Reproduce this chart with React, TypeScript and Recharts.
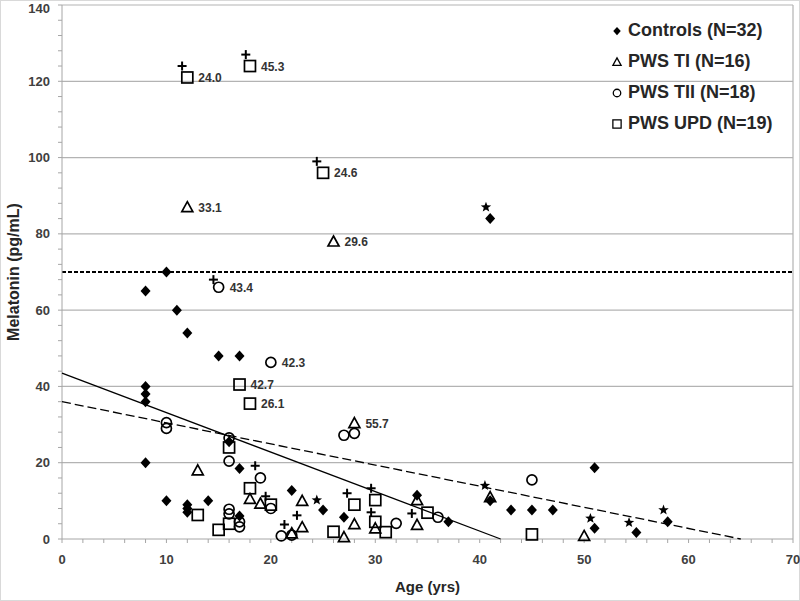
import {
  ScatterChart,
  Scatter,
  XAxis,
  YAxis,
  CartesianGrid,
  ReferenceLine,
} from "recharts";

type Pt = [number, number, string?];

// Age (yrs), melatonin (pg/mL), optional annotation
const controls: Pt[] = [
  [8, 65], [10, 70], [11, 60], [12, 54], [15, 48], [17, 48], [8, 40], [8, 38],
  [8, 36], [41, 84], [16, 25.5], [8, 20], [17, 18.5], [10, 10], [12, 9], [12, 8],
  [12, 7], [14, 10], [17, 6], [22, 12.7], [25, 7.6], [27, 5.7], [34, 11.5], [37, 4.5],
  [41, 10], [43, 7.6], [45, 7.6], [47, 7.6], [51, 2.8], [51, 18.7], [55, 1.7], [58, 4.5],
];
const pwsTI: Pt[] = [
  [12, 87, "33.1"], [26, 78, "29.6"], [28, 30.4, "55.7"], [13, 18], [18, 10.5],
  [19, 9.3], [22, 1.5], [23, 10], [23, 3.1], [27, 0.5], [28, 3.9], [30, 2.8],
  [34, 10.2], [34, 3.7], [41, 11], [50, 0.8],
];
const pwsTII: Pt[] = [
  [15, 66, "43.4"], [20, 46.3, "42.3"], [10, 30.5], [10, 29], [16, 26.5], [16, 20.4],
  [19, 16], [16, 7.8], [16, 6.6], [17, 4.5], [17, 3.2], [20, 8], [21, 0.8], [22, 1],
  [27, 27.2], [28, 27.7], [32, 4.1], [36, 5.7], [45, 15.5],
];
const pwsUPD: Pt[] = [
  [12, 121, "24.0"], [18, 124, "45.3"], [25, 96, "24.6"], [17, 40.5, "42.7"],
  [18, 35.5, "26.1"], [16, 24], [18, 13.3], [13, 6.3], [16, 4], [15, 2.4], [20, 9],
  [26, 1.9], [28, 9], [30, 10.2], [30, 4.5], [31, 1.8], [35, 6.9], [45, 1.2],
];
const plusMarks: Pt[] = [
  [11.5, 124], [17.6, 127], [24.4, 99], [14.5, 68], [18.5, 19.2], [19.5, 11.2],
  [22.5, 6.2], [21.3, 3.8], [27.3, 12], [29.6, 13.3], [29.6, 7], [33.5, 6.7],
];
const starMarks: Pt[] = [
  [40.6, 87], [24.4, 10.2], [40.5, 14], [50.6, 5.4], [54.3, 4.3], [57.6, 7.6],
];

// regression lines (end points)
const solidFit: Pt[] = [[0, 43.5], [42, 0]];
const dashedFit: Pt[] = [[0, 36], [65, 0]];
const threshold = 70;

const legendNames = ["Controls (N=32)", "PWS TI (N=16)", "PWS TII (N=18)", "PWS UPD (N=19)"];
const legendShapes = ["diamond", "triangle", "circle", "square"];

const xTicks = Array.from({ length: 36 }, (_, i) => i * 2);
const yTicks = Array.from({ length: 36 }, (_, i) => i * 4);
const yGrid = [20, 40, 60, 80, 100, 120, 140];

const rows = (pts: Pt[]) => pts.map(([x, y, note]) => ({ x, y, note }));

const INK = "#000";
const FONT = "Arial, 'Liberation Sans', sans-serif";

function Marker({ kind, cx, cy }: { kind: string; cx: number; cy: number }) {
  switch (kind) {
    case "diamond":
      return (
        <polygon
          points={`${cx},${cy - 5.5} ${cx + 5},${cy} ${cx},${cy + 5.5} ${cx - 5},${cy}`}
          fill={INK}
        />
      );
    case "triangle":
      return (
        <polygon
          points={`${cx},${cy - 5.5} ${cx + 5.5},${cy + 4.5} ${cx - 5.5},${cy + 4.5}`}
          fill="none"
          stroke={INK}
          strokeWidth={1.7}
        />
      );
    case "circle":
      return <circle cx={cx} cy={cy} r={5} fill="none" stroke={INK} strokeWidth={1.7} />;
    case "square":
      return (
        <rect x={cx - 5.5} y={cy - 5.5} width={11} height={11} fill="none" stroke={INK} strokeWidth={1.7} />
      );
    case "plus":
      return (
        <g stroke={INK} strokeWidth={2}>
          <line x1={cx - 4.5} y1={cy} x2={cx + 4.5} y2={cy} />
          <line x1={cx} y1={cy - 4.5} x2={cx} y2={cy + 4.5} />
        </g>
      );
    case "star": {
      const pts: string[] = [];
      for (let i = 0; i < 10; i++) {
        const r = i % 2 === 0 ? 5.5 : 2.3;
        const a = -Math.PI / 2 + (i * Math.PI) / 5;
        pts.push(`${cx + r * Math.cos(a)},${cy + r * Math.sin(a)}`);
      }
      return <polygon points={pts.join(" ")} fill={INK} />;
    }
    default:
      return <g />;
  }
}

function shapeFor(kind: string) {
  return (props: any) => {
    const { cx, cy, payload } = props;
    return (
      <g>
        <Marker kind={kind} cx={cx} cy={cy} />
        {payload.note && (
          <text
            x={cx + 11}
            y={cy + 4.5}
            fontFamily={FONT}
            fontWeight="bold"
            fontSize={12}
            fill="#333"
          >
            {payload.note}
          </text>
        )}
      </g>
    );
  };
}

function YTick(props: any) {
  const { x, y, payload } = props;
  if (payload.value % 20 !== 0) return <g />;
  // keep the top label inside the picture
  const ty = Math.max(y, 8);
  return (
    <text x={x} y={ty} dy={4.5} textAnchor="end" fontFamily={FONT} fontWeight="bold" fontSize={13} fill="#404040">
      {payload.value}
    </text>
  );
}

function XTick(props: any) {
  const { x, y, payload } = props;
  if (payload.value % 10 !== 0) return <g />;
  return (
    <text x={x} y={y} dy={11} textAnchor="middle" fontFamily={FONT} fontWeight="bold" fontSize={13} fill="#404040">
      {payload.value}
    </text>
  );
}

function LegendBox() {
  return (
    <div
      style={{
        position: "absolute",
        left: 609,
        top: 14,
        fontFamily: FONT,
        fontWeight: "bold",
        fontSize: 18,
        color: "#262626",
      }}
    >
      {legendNames.map((name, i) => (
        <div key={name} style={{ display: "flex", alignItems: "center", height: 31 }}>
          <svg width={14} height={14} style={{ marginRight: 4 }}>
            <g transform="translate(1.75,1.75) scale(0.75)">
              <Marker kind={legendShapes[i]} cx={7} cy={7} />
            </g>
          </svg>
          <span>{name}</span>
        </div>
      ))}
    </div>
  );
}

export default function App() {
  return (
    <div
      style={{
        position: "absolute",
        left: 0,
        top: 0,
        width: 800,
        height: 601,
        background: "#fff",
        border: "1px solid #d9d9d9",
        boxSizing: "border-box",
      }}
    >
      <ScatterChart
        width={800}
        height={601}
        margin={{ top: 5, right: 7, bottom: 0, left: 12 }}
        style={{ position: "absolute", left: -1, top: -1 }}
      >
        <CartesianGrid
          horizontalValues={yGrid}
          verticalValues={[70]}
          stroke="#b3b3b3"
          strokeWidth={1.2}
        />
        <XAxis
          type="number"
          dataKey="x"
          domain={[0, 70]}
          ticks={xTicks}
          interval={0}
          tick={<XTick />}
          tickSize={4}
          tickMargin={10}
          height={62}
          stroke="#a6a6a6"
          label={(p: any) => (
            <text
              x={p.viewBox.x + p.viewBox.width / 2}
              y={p.viewBox.y + 53}
              textAnchor="middle"
              fontFamily={FONT}
              fontWeight="bold"
              fontSize={15}
              fill="#262626"
            >
              Age (yrs)
            </text>
          )}
        />
        <YAxis
          type="number"
          dataKey="y"
          domain={[0, 140]}
          ticks={yTicks}
          interval={0}
          tick={<YTick />}
          tickSize={4}
          tickMargin={8}
          width={50}
          stroke="#a6a6a6"
          label={(p: any) => (
            <text
              x={19}
              y={p.viewBox.y + p.viewBox.height / 2}
              textAnchor="middle"
              transform={`rotate(-90, 19, ${p.viewBox.y + p.viewBox.height / 2})`}
              fontFamily={FONT}
              fontWeight="bold"
              fontSize={16}
              fill="#262626"
            >
              Melatonin (pg/mL)
            </text>
          )}
        />
        <ReferenceLine y={threshold} stroke={INK} strokeWidth={2} strokeDasharray="4 2" />
        <Scatter
          data={rows(solidFit)}
          line={{ stroke: INK, strokeWidth: 1.3 }}
          shape={() => <g />}
          legendType="none"
          isAnimationActive={false}
        />
        <Scatter
          data={rows(dashedFit)}
          line={{ stroke: INK, strokeWidth: 1.3, strokeDasharray: "9 4" }}
          shape={() => <g />}
          legendType="none"
          isAnimationActive={false}
        />
        <Scatter data={rows(plusMarks)} shape={shapeFor("plus")} isAnimationActive={false} />
        <Scatter data={rows(starMarks)} shape={shapeFor("star")} isAnimationActive={false} />
        <Scatter name="PWS UPD (N=19)" data={rows(pwsUPD)} shape={shapeFor("square")} isAnimationActive={false} />
        <Scatter name="PWS TII (N=18)" data={rows(pwsTII)} shape={shapeFor("circle")} isAnimationActive={false} />
        <Scatter name="PWS TI (N=16)" data={rows(pwsTI)} shape={shapeFor("triangle")} isAnimationActive={false} />
        <Scatter name="Controls (N=32)" data={rows(controls)} shape={shapeFor("diamond")} isAnimationActive={false} />
      </ScatterChart>
      <LegendBox />
    </div>
  );
}
